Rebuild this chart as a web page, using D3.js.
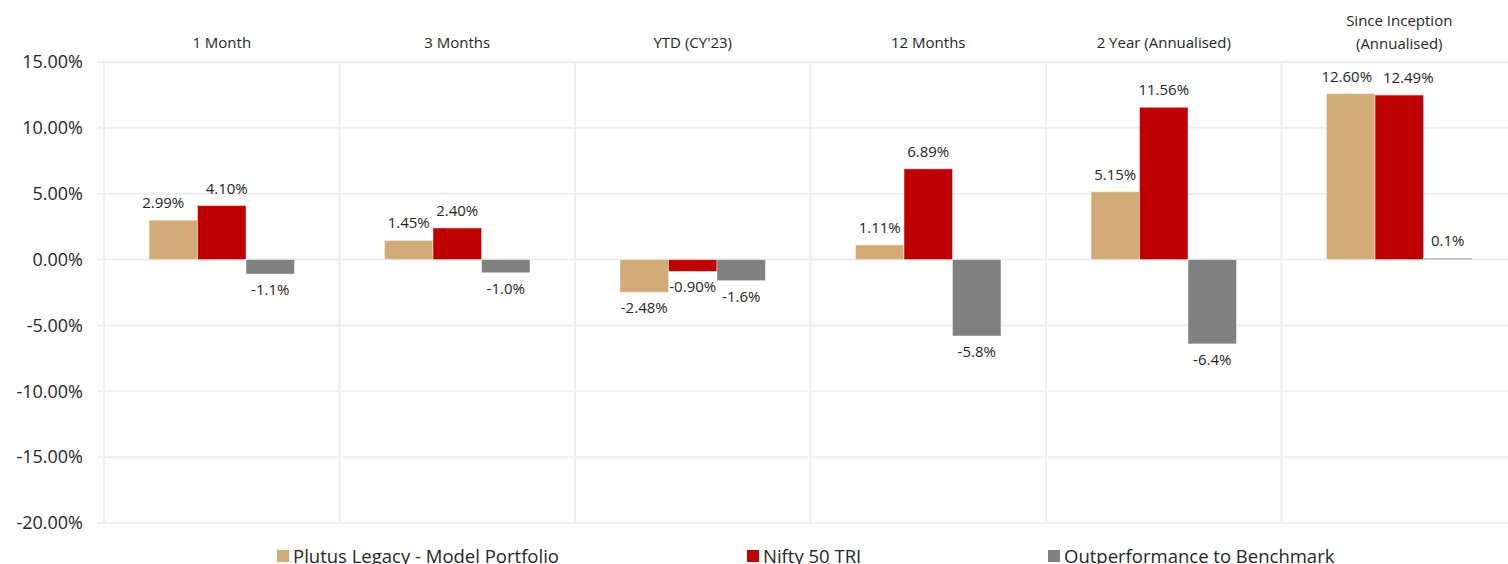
<!DOCTYPE html>
<html>
<head>
<meta charset="utf-8">
<script src="https://cdn.jsdelivr.net/npm/d3@7"></script>
<style>
  body { margin: 0; background: #fff; }
  svg { display: block; font-family: "Open Sans", "Noto Sans", sans-serif; }
</style>
</head>
<body>
<svg id="chart" width="1508" height="564"></svg>
<script>
// data
const categories = ["1 Month", "3 Months", "YTD (CY'23)", "12 Months", "2 Year (Annualised)", "Since Inception (Annualised)"];
const seriesNames = ["Plutus Legacy - Model Portfolio", "Nifty 50 TRI", "Outperformance to Benchmark"];
const portfolio = [2.99, 1.45, -2.48, 1.11, 5.15, 12.60];
const nifty = [4.10, 2.40, -0.90, 6.89, 11.56, 12.49];
const outperf = [-1.1, -1.0, -1.6, -5.8, -6.4, 0.1];
const yTicks = [-20, -15, -10, -5, 0, 5, 10, 15];

const colors = ["#d0ab76", "#c00000", "#808080"];
const decimals = [2, 2, 1];
const seriesValues = [portfolio, nifty, outperf];

// label nudges where excel shifted labels apart (px)
const nudge = {"1 Month|0": -10, "1 Month|1": 5, "Since Inception (Annualised)|0": -4, "Since Inception (Annualised)|1": 9};

const svg = d3.select("#chart");
const plotLeft = 104, plotRight = 1517, plotTop = 62, plotBottom = 523;

const y = d3.scaleLinear().domain([-20, 15]).range([plotBottom, plotTop]);
const x0 = d3.scaleBand().domain(categories).range([plotLeft, plotRight]).padding(0);
const x1 = d3.scaleBand().domain(d3.range(3)).range([0, x0.bandwidth()]).paddingInner(0).paddingOuter(0.928);

// horizontal grid
svg.append("g").selectAll("line")
  .data(yTicks).enter().append("line")
    .attr("x1", 97).attr("x2", plotRight)
    .attr("y1", d => y(d)).attr("y2", d => y(d))
    .attr("stroke", "#eeeeee").attr("stroke-width", 2);

// vertical grid at category boundaries
const bounds = categories.map(c => x0(c)).concat([plotRight]);
svg.append("g").selectAll("line")
  .data(bounds).enter().append("line")
    .attr("x1", d => d).attr("x2", d => d)
    .attr("y1", plotTop).attr("y2", plotBottom)
    .attr("stroke", "#eeeeee").attr("stroke-width", 2);

// y labels
svg.append("g").selectAll("text")
  .data(yTicks).enter().append("text")
    .attr("x", 83).attr("y", d => y(d)).attr("dy", "0.35em")
    .attr("text-anchor", "end")
    .attr("font-size", "18px").attr("fill", "#262626")
    .text(d => d.toFixed(2) + "%");

// category labels (top)
const catG = svg.append("g");
categories.forEach(c => {
  const cx = x0(c) + x0.bandwidth() / 2;
  const t = catG.append("text").attr("x", cx).attr("text-anchor", "middle")
    .attr("font-size", "15px").attr("fill", "#262626");
  if (c.startsWith("Since")) {
    t.append("tspan").attr("x", cx).attr("y", 26).text("Since Inception");
    t.append("tspan").attr("x", cx).attr("y", 49).text("(Annualised)");
  } else {
    t.attr("y", 48).text(c);
  }
});

// bars
const flat = [];
categories.forEach((c, ci) => {
  seriesValues.forEach((vals, si) => flat.push({cat: c, s: si, v: vals[ci]}));
});

svg.append("g").selectAll("rect")
  .data(flat).enter().append("rect")
    .attr("x", d => x0(d.cat) + x1(d.s))
    .attr("width", x1.bandwidth())
    .attr("y", d => y(Math.max(0, d.v)))
    .attr("height", d => Math.abs(y(d.v) - y(0)))
    .attr("fill", d => colors[d.s])
    .attr("stroke", "rgba(255,255,255,0.45)").attr("stroke-width", 1);

// data labels
svg.append("g").selectAll("text")
  .data(flat).enter().append("text")
    .attr("x", d => x0(d.cat) + x1(d.s) + x1.bandwidth() / 2 + (nudge[d.cat + "|" + d.s] || 0))
    .attr("y", d => d.v >= 0 ? y(d.v) - 12 : y(d.v) + 21)
    .attr("text-anchor", "middle")
    .attr("font-size", "15px").attr("fill", "#262626")
    .text(d => d.v.toFixed(decimals[d.s]) + "%");

// legend
const legendX = [277, 747, 1048];
const lg = svg.append("g");
seriesNames.forEach((n, i) => {
  lg.append("rect").attr("x", legendX[i]).attr("y", 550).attr("width", 12).attr("height", 12)
    .attr("fill", colors[i]);
  lg.append("text").attr("x", legendX[i] + 16).attr("y", 563)
    .attr("font-size", "18.5px").attr("fill", "#262626").text(n);
});
</script>
</body>
</html>
